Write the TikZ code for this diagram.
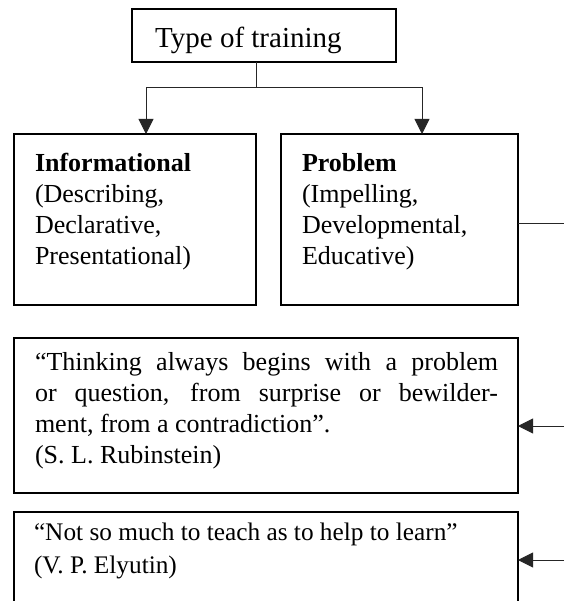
\documentclass[tikz,border=0pt]{standalone}
\usepackage{fontspec}
\setmainfont{Liberation Serif}
\usetikzlibrary{arrows.meta}
\hbadness=10000
\tikzset{
  x=1pt, y=-1pt,
  box/.style={draw=black, line width=1.4pt, inner sep=0pt, outer sep=0pt, anchor=north west},
  txt/.style={inner sep=0pt, outer sep=0pt, anchor=north west, font=\fontsize{26}{31}\selectfont},
  conn/.style={draw=black!85, line width=0.9pt},
  arr/.style={conn, -{Triangle[width=15pt,length=15pt]}},
}
\begin{document}
\begin{tikzpicture}
\clip (0,0) rectangle (564,601);
\fill[white] (0,0) rectangle (564,601);
% boxes
\node[box, minimum width=264pt, minimum height=53pt] (title) at (132,9) {};
\node[box, minimum width=242pt, minimum height=171pt] (info) at (14,134) {};
\node[box, minimum width=237pt, minimum height=171pt] (prob) at (281,134) {};
\node[box, minimum width=504pt, minimum height=155pt] (q1) at (14,338) {};
\node[box, minimum width=504pt, minimum height=108pt] (q2) at (14,512) {};
% texts
\node[inner sep=0pt, anchor=base west, font=\fontsize{29}{34}\selectfont] (titletext) at (155,48) {Type of training};
\node[txt, align=left] (infotext) at (35,153) {\textbf{Informational}\\(Describing,\\Declarative,\\Presentational)};
\node[txt, align=left] (probtext) at (302,153) {\textbf{Problem}\\(Impelling,\\Developmental,\\Educative)};
\node[txt, text width=463pt, align=justify] (q1text) at (35,352) {“Thinking always begins with a problem\linebreak or question, from surprise or bewilder-\linebreak ment, from a contradiction”.\\(S.\ L.\ Rubinstein)};
\node[txt, align=left, font=\fontsize{25.3}{32.5}\selectfont] (q2text) at (34,523) {“Not so much to teach as to help to learn”\\(V.\ P.\ Elyutin)};
% connectors
\coordinate (j) at (256,87);
\coordinate (la) at (146,134);
\coordinate (ra) at (422,134);
\draw[conn] (j |- title.south) -- (j);
\draw[arr] (j) -| (la);
\draw[arr] (j) -| (ra);
\coordinate (r1) at (564,223);
\coordinate (r2) at (564,426);
\coordinate (r3) at (564,560);
\draw[conn] (prob.east |- r1) -- (r1);
\draw[arr] (r2) -- (q1.east |- r2);
\draw[arr] (r3) -- (q2.east |- r3);
\end{tikzpicture}
\end{document}
